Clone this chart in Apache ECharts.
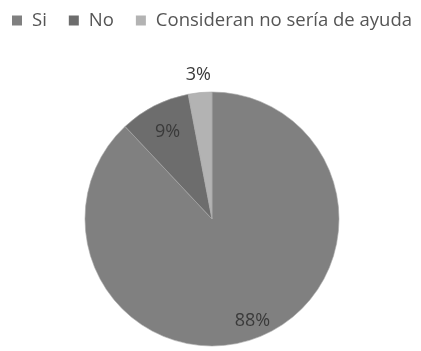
<!DOCTYPE html>
<html><head><meta charset="utf-8">
<script src="https://cdn.jsdelivr.net/npm/echarts@6/dist/echarts.min.js"></script>
<style>html,body{margin:0;padding:0;background:#fff}#c{width:421px;height:351px}</style>
</head><body><div id="c"></div>
<script>
const categories = ['Si', 'No', 'Consideran no sería de ayuda'];
const values = [88, 9, 3];
const colors = ['#808080', '#6d6d6d', '#b3b3b3'];

const chart = echarts.init(document.getElementById('c'), null, {renderer: 'canvas'});
const mainData = categories.map((n, i) => ({name: n, value: values[i], itemStyle: {color: colors[i]}}));
const labelsFor = k => categories.map((n, i) => ({name: n, value: values[i], label: {show: i === k}}));
const labelFont = {fontFamily: 'Open Sans', fontSize: 18, color: '#3a3a3a'};
const overlay = (radius, data) => ({
  type: 'pie', center: [212, 219], radius: radius, startAngle: 90, clockwise: true,
  silent: true, legendHoverLink: false, itemStyle: {color: 'rgba(0,0,0,0)'},
  label: Object.assign({position: 'inside', formatter: '{c}%'}, labelFont),
  labelLine: {show: false}, data: data
});
chart.setOption({
  animation: false,
  legend: {
    data: categories, left: 12, top: 11, width: 409, itemWidth: 10, itemHeight: 10, itemGap: 22,
    icon: 'rect', itemStyle: {borderWidth: 0}, padding: 0,
    textStyle: {fontFamily: 'Open Sans', fontSize: 18.5, color: '#555555', padding: [0, 0, 0, 5]}
  },
  series: [{
    type: 'pie', center: [212, 219], radius: 127, startAngle: 90, clockwise: true,
    silent: true, label: {show: false}, labelLine: {show: false},
    itemStyle: {borderColor: '#a8a8a8', borderWidth: 0.6},
    data: mainData
  },
  overlay([78, 136], labelsFor(0)),
  overlay([66, 124], labelsFor(1)),
  overlay([130, 154], labelsFor(2))]
});
</script></body></html>
